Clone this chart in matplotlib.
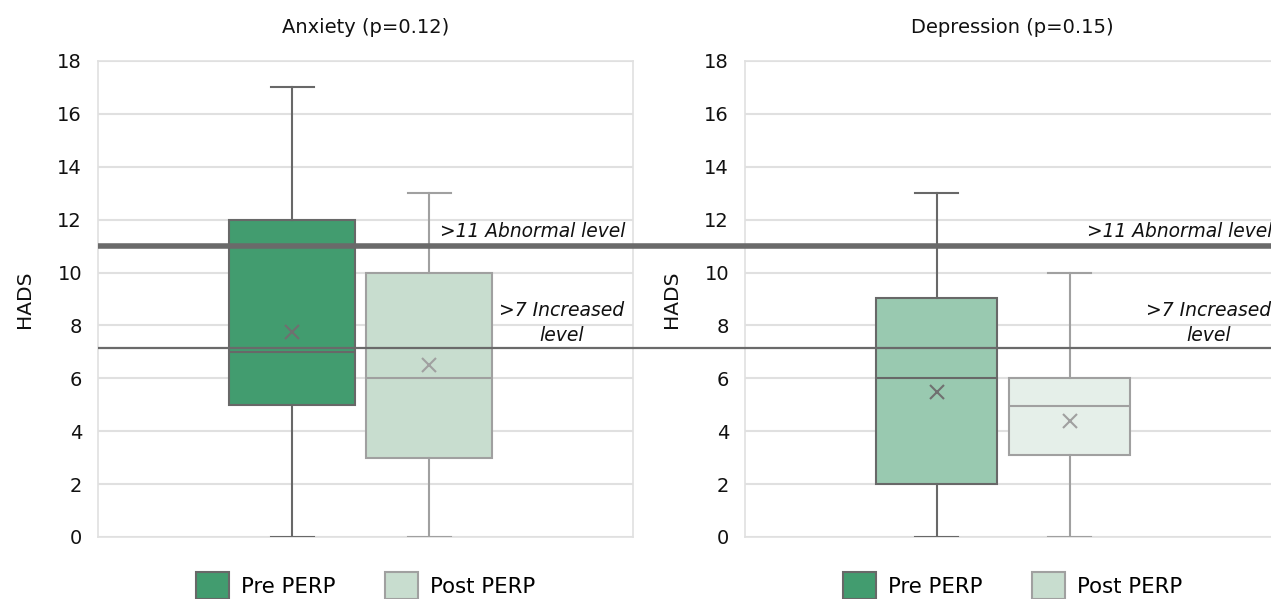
import numpy as np
import matplotlib
matplotlib.use("Agg")
import matplotlib.pyplot as plt
import matplotlib.transforms as mtransforms
from matplotlib.lines import Line2D
from matplotlib.patches import Patch

plt.rcParams['font.family'] = ['DejaVu Sans']

# data
titles = ['Anxiety (p=0.12)', 'Depression (p=0.15)']
groups = ['Pre PERP', 'Post PERP']
whislo = [[0, 0], [0, 0]]
q1 = [[5, 3], [2, 3.1]]
med = [[7, 6], [6, 4.95]]
q3 = [[12, 10], [9.05, 6]]
whishi = [[17, 13], [13, 10]]
means = [[7.75, 6.5], [5.5, 4.4]]
thresholds = [11, 7.15]
threshold_labels = ['>11 Abnormal level', '>7 Increased\nlevel']
yticks = np.arange(0, 19, 2)

fill_cols = [['#429C6F', '#C8DDCF'], ['#99C9B0', '#E5EFE9']]
edge_cols = ['#686868', '#A0A0A0']
legend_cols = ['#429C6F', '#C8DDCF']

W, H = 1271, 599
fig = plt.figure(figsize=(W / 100, H / 100), dpi=100)

ax_w = 535 / W
ax_h = 476 / H
bottom = (H - 537) / H
lefts = [98 / W, 745 / W]
positions = [[0.363, 0.619], [0.358, 0.607]]
box_w = [0.236, 0.226]

axes = []
for i in range(2):
    ax = fig.add_axes([lefts[i], bottom, ax_w, ax_h])
    axes.append(ax)
    for j in range(2):
        st = dict(whislo=whislo[i][j], q1=q1[i][j], med=med[i][j],
                  q3=q3[i][j], whishi=whishi[i][j], label=groups[j])
        ax.bxp([st], positions=[positions[i][j]], widths=box_w[i],
               showfliers=False, patch_artist=True, manage_ticks=False,
               boxprops=dict(facecolor=fill_cols[i][j], edgecolor=edge_cols[j], linewidth=1.5),
               medianprops=dict(color=edge_cols[j], linewidth=1.5),
               whiskerprops=dict(color=edge_cols[j], linewidth=1.5),
               capprops=dict(color=edge_cols[j], linewidth=1.5),
               capwidths=0.08, zorder=3)
        ax.plot(positions[i][j], means[i][j], marker='x', ms=10, mew=1.5,
                color='#707070' if j == 0 else '#A0A0A0', zorder=4)

    ax.set_xlim(0, 1)
    ax.set_ylim(0, 18)
    ax.set_yticks(yticks)
    ax.set_xticks([])
    ax.yaxis.grid(True, color='#E0E0E0', linewidth=1.5, zorder=0)
    ax.set_axisbelow(True)
    for s in ax.spines.values():
        s.set_color('#E0E0E0')
        s.set_linewidth(1.2)
    ax.tick_params(axis='y', length=0, pad=11.5, labelsize=14, labelcolor='#111111')
    ax.set_title(titles[i], fontsize=14, pad=20, color='#111111')
    ax.set_ylabel('HADS', fontsize=14.5, color='#111111')
    ax.yaxis.set_label_coords(-0.12, 0.5)

    ax.legend(handles=[Patch(facecolor=legend_cols[k], edgecolor=edge_cols[k], linewidth=1.5,
                             label=groups[k]) for k in range(2)],
              loc='upper center', bbox_to_anchor=(0.5, -0.074), ncol=2, frameon=False,
              fontsize=15.3, handlelength=1.55, handleheight=1.55, handletextpad=0.58,
              columnspacing=2.3, borderpad=0, borderaxespad=0)

    # threshold labels
    ax.text(1 - 8 / 535, thresholds[0] + 0.2, threshold_labels[0], ha='right', va='bottom',
            fontsize=13.4, style='italic', color='#111111', zorder=5)
    ax.text(1 - 71 / 535, thresholds[1] + 0.1, threshold_labels[1], ha='center', va='bottom',
            multialignment='center', fontsize=13.5, style='italic', color='#111111',
            linespacing=1.45, zorder=5)

# threshold lines across both panels
trans = mtransforms.blended_transform_factory(fig.transFigure, axes[0].transData)
for k, lw in zip(range(2), [4.0, 1.6]):
    fig.add_artist(Line2D([98 / W, 1.0], [thresholds[k]] * 2, transform=trans, color='#6A6A6A',
                          linewidth=lw, zorder=10, solid_capstyle='butt'))

fig.savefig('out.png', dpi=100)
